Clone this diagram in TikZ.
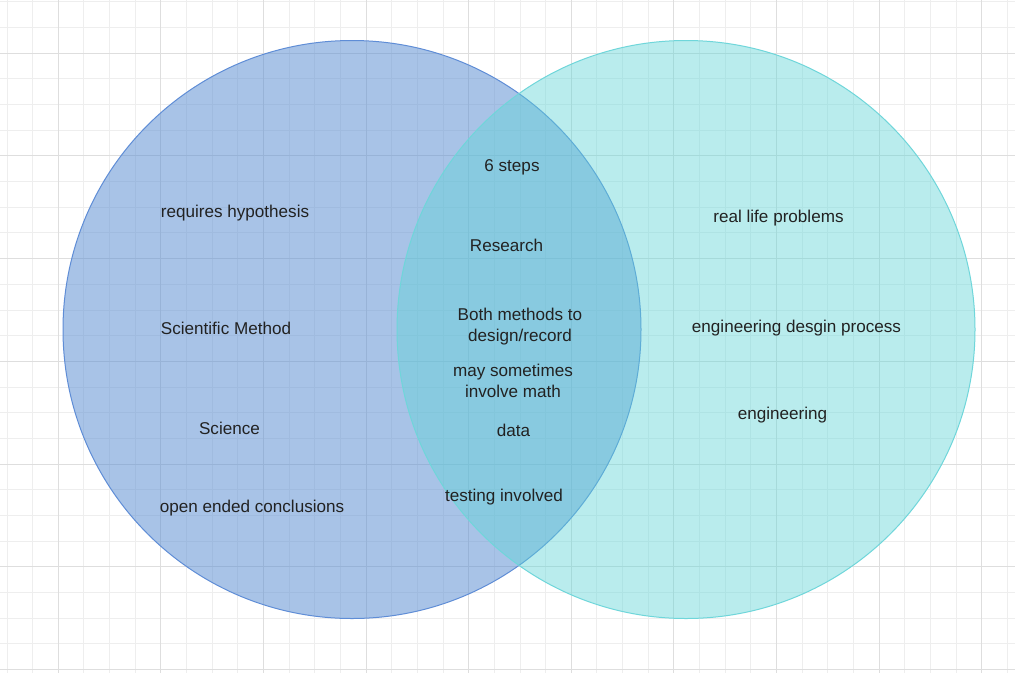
\documentclass[tikz,border=0pt]{standalone}
\usepackage{fontspec}
\setmainfont{Liberation Sans}
\definecolor{gridminor}{HTML}{EEEEEE}
\definecolor{gridmajor}{HTML}{DEDEDE}
\definecolor{leftfill}{RGB}{83,137,209}
\definecolor{leftline}{HTML}{5F8DD6}
\definecolor{rightfill}{RGB}{94,213,215}
\definecolor{rightline}{HTML}{6FD6DA}
\definecolor{txt}{HTML}{222222}
\tikzset{
  lbl/.style={font=\fontsize{17.1}{20.5}\selectfont, text=txt, align=center, inner sep=0pt},
  minorgrid/.style={draw=gridminor, line width=1pt},
  majorgrid/.style={draw=gridmajor, line width=1pt},
}
\begin{document}
\begin{tikzpicture}[x=1pt,y=-1pt]
\useasboundingbox (0,0) rectangle (1015,673);
\fill[white] (0,0) rectangle (1015,673);
% grid
\foreach \k in {-2,...,37} {
  \pgfmathsetmacro\xx{58.3+\k*25.65}
  \draw[minorgrid] (\xx,0) -- (\xx,673);
}
\foreach \k in {-2,...,24} {
  \pgfmathsetmacro\yy{53.3+\k*25.67}
  \draw[minorgrid] (0,\yy) -- (1015,\yy);
}
\foreach \k in {0,...,9} {
  \pgfmathsetmacro\xx{58.3+\k*102.6}
  \draw[majorgrid] (\xx,0) -- (\xx,673);
}
\foreach \k in {0,...,6} {
  \pgfmathsetmacro\yy{53.3+\k*102.68}
  \draw[majorgrid] (0,\yy) -- (1015,\yy);
}
% circles
\node[circle, minimum size=578pt, inner sep=0pt, fill=leftfill, fill opacity=0.5, draw=leftline, line width=1pt] (science) at (352,329.5) {};
\node[circle, minimum size=578pt, inner sep=0pt, fill=rightfill, fill opacity=0.43, draw=rightline, line width=1pt] (engineering) at (686,329.5) {};
% left texts
\node[lbl] (t1) at (235,213.5) {requires hypothesis};
\node[lbl] (t2) at (226,328.5) {Scientific Method};
\node[lbl] (t3) at (229.5,428.5) {Science};
\node[lbl] (t4) at (252,508.5) {open ended conclusions};
% middle texts
\node[lbl] (m1) at (512,167.5) {6 steps};
\node[lbl] (m2) at (506.5,245.5) {Research};
\node[lbl] (m3) at (520,326.5) {Both methods to\\design/record};
\node[lbl] (m4) at (513,381) {may sometimes\\involve math};
\node[lbl] (m5) at (513.5,430.5) {data};
\node[lbl] (m6) at (504,497.5) {testing involved};
% right texts
\node[lbl] (r1) at (778.5,218.5) {real life problems};
\node[lbl] (r2) at (796.5,328.5) {engineering desgin process};
\node[lbl] (r3) at (782.5,415.5) {engineering};
\end{tikzpicture}
\end{document}
